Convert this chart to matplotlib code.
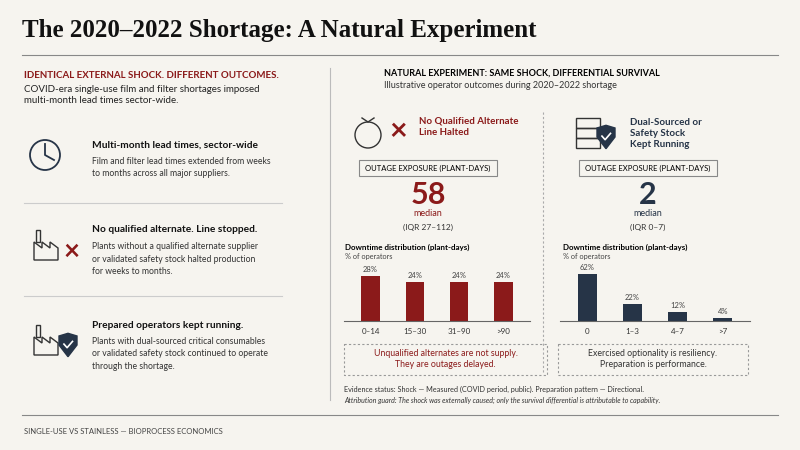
import numpy as np
import matplotlib.pyplot as plt
from matplotlib.patches import Rectangle, Circle, Polygon

plt.rcParams['font.family'] = ['Lato', 'DejaVu Sans']

bg = '#f6f4ef'
red = '#8b1a1a'
navy = '#263447'
grey = '#444444'

left_bins = ['0–14', '15–30', '31–90', '>90']
left_pct = [28, 24, 24, 24]
right_bins = ['0', '1–3', '4–7', '>7']
right_pct = [62, 22, 12, 4]

fig = plt.figure(figsize=(8, 4.5), dpi=100)
fig.patch.set_facecolor(bg)
ax = fig.add_axes([0, 0, 1, 1])
ax.set_xlim(0, 800)
ax.set_ylim(450, 0)
ax.axis('off')

# title
ax.text(22, 30, 'The 2020–2022 Shortage: A Natural Experiment', fontsize=18, fontweight='bold',
        family='Liberation Serif', va='center', color='#111111')
ax.plot([22, 778], [55, 55], color='#888888', lw=0.8)
ax.plot([22, 778], [415, 415], color='#888888', lw=0.8)
ax.plot([330, 330], [68, 400], color='#bbbbbb', lw=0.8)
ax.text(24, 431, 'SINGLE-USE VS STAINLESS — BIOPROCESS ECONOMICS', fontsize=5.5, color=grey, va='center')

# left column
ax.text(24, 76, 'IDENTICAL EXTERNAL SHOCK. DIFFERENT OUTCOMES.', fontsize=7, fontweight='bold', color=red, va='center')
ax.text(24, 95, 'COVID-era single-use film and filter shortages imposed\nmulti-month lead times sector-wide.',
        fontsize=7, color='#222222', va='center', linespacing=1.4)

items = [(155, 'Multi-month lead times, sector-wide',
          'Film and filter lead times extended from weeks\nto months across all major suppliers.'),
         (240, 'No qualified alternate. Line stopped.',
          'Plants without a qualified alternate supplier\nor validated safety stock halted production\nfor weeks to months.'),
         (335, 'Prepared operators kept running.',
          'Plants with dual-sourced critical consumables\nor validated safety stock continued to operate\nthrough the shortage.')]
for y, head, body in items:
    ax.text(92, y - 10, head, fontsize=7.3, fontweight='bold', va='center', color='#111111')
    ax.text(92, y + 2, body, fontsize=6.2, va='top', color='#333333', linespacing=1.5)
ax.plot([24, 282], [203, 203], color='#cccccc', lw=0.8)
ax.plot([24, 282], [296, 296], color='#cccccc', lw=0.8)

# clock icon
ax.add_patch(Circle((45, 155), 15, fill=False, ec=navy, lw=1.3))
ax.plot([45, 45, 54], [144, 155, 160], color=navy, lw=1.3)


def factory(x0, y0):
    pts = [(x0, y0), (x0, y0 - 18), (x0 + 8, y0 - 12), (x0 + 8, y0 - 18), (x0 + 16, y0 - 12),
           (x0 + 16, y0 - 18), (x0 + 24, y0 - 12), (x0 + 24, y0)]
    ax.add_patch(Polygon(pts, closed=True, fill=False, ec='#333333', lw=1))
    ax.add_patch(Rectangle((x0 + 2, y0 - 30), 4, 12, fill=False, ec='#333333', lw=1))


factory(34, 260)
ax.text(72, 252, '×', fontsize=20, color=red, ha='center', va='center', fontweight='bold')
factory(34, 355)


def shield(cx, cy, s):
    pts = [(cx - s, cy - s), (cx, cy - 1.3 * s), (cx + s, cy - s), (cx + s, cy), (cx, cy + 1.3 * s), (cx - s, cy)]
    ax.add_patch(Polygon(pts, closed=True, fc=navy, ec=navy))
    ax.plot([cx - 0.45 * s, cx - 0.1 * s, cx + 0.5 * s], [cy - 0.1 * s, cy + 0.3 * s, cy - 0.4 * s], color='white', lw=1.2)


shield(68, 345, 9)

# right panel header
ax.text(384, 73, 'NATURAL EXPERIMENT: SAME SHOCK, DIFFERENTIAL SURVIVAL', fontsize=6.5, fontweight='bold', va='center')
ax.text(384, 86, 'Illustrative operator outcomes during 2020–2022 shortage', fontsize=6.5, color='#333333', va='center')
ax.plot([543, 543], [112, 372], color='#aaaaaa', lw=0.8, ls=(0, (2, 2)))

# left panel
ax.add_patch(Circle((368, 135), 13, fill=False, ec='#333333', lw=1))
ax.plot([362, 368, 374], [118, 122, 118], color='#333333', lw=1)
ax.text(398, 131, '×', fontsize=22, color=red, ha='center', va='center', fontweight='bold')
ax.text(419, 127, 'No Qualified Alternate\nLine Halted', fontsize=7, fontweight='bold', color=red, va='center', linespacing=1.3)
# right panel icon
for yy in [118, 128, 138]:
    ax.add_patch(Rectangle((576, yy), 24, 10, fill=False, ec='#333333', lw=1))
shield(606, 137, 9)
ax.text(630, 118, 'Dual-Sourced or\nSafety Stock\nKept Running', fontsize=7, fontweight='bold', color=navy, va='top', linespacing=1.3)

for cx, val, iqr, col in [(428, '58', '(IQR 27–112)', red), (648, '2', '(IQR 0–7)', navy)]:
    ax.add_patch(Rectangle((cx - 69, 160), 138, 16, fill=False, ec='#888888', lw=0.8))
    ax.text(cx, 168, 'OUTAGE EXPOSURE (PLANT-DAYS)', fontsize=5.5, ha='center', va='center')
    ax.text(cx, 195, val, fontsize=22, fontweight='bold', color=col, ha='center', va='center')
    ax.text(cx, 214, 'median', fontsize=6.5, color=col, ha='center', va='center')
    ax.text(cx, 227, iqr, fontsize=6, ha='center', va='center', color='#333333')

for x0 in [345, 563]:
    ax.text(x0, 247, 'Downtime distribution (plant-days)', fontsize=5.8, fontweight='bold', va='center')
    ax.text(x0, 257, '% of operators', fontsize=5.3, va='center', color='#444444')

for x0, w, txt, col in [(344, 203, 'Unqualified alternates are not supply.\nThey are outages delayed.', red),
                        (558, 190, 'Exercised optionality is resiliency.\nPreparation is performance.', '#333333')]:
    ax.add_patch(Rectangle((x0, 344), w, 31, fill=False, ec='#999999', lw=0.8, ls=(0, (2, 2))))
    ax.text(x0 + w / 2, 359, txt, fontsize=6.3, color=col, ha='center', va='center', linespacing=1.4)

ax.text(344, 389, 'Evidence status: Shock — Measured (COVID period, public). Preparation pattern — Directional.',
        fontsize=5.2, va='center', color='#333333')
ax.text(344, 400, 'Attribution guard: The shock was externally caused; only the survival differential is attributable to capability.',
        fontsize=5.0, va='center', style='italic', color='#333333')

# bar charts
for rect, cats, vals, col, ymax in [([344 / 800, 129 / 450, 186 / 800, 58 / 450], left_bins, left_pct, red, 36),
                                    ([560 / 800, 129 / 450, 190 / 800, 58 / 450], right_bins, right_pct, navy, 76)]:
    b = fig.add_axes(rect)
    b.set_facecolor('none')
    x = np.arange(len(cats))
    b.bar(x, vals, width=0.42, color=col)
    for xi, v in zip(x, vals):
        b.text(xi, v + 2 * ymax / 40, f'{v}%', ha='center', va='bottom', fontsize=5.5, color='#444444')
    b.set_ylim(0, ymax)
    b.set_xlim(-0.6, len(cats) - 0.4)
    b.set_xticks(x)
    b.set_xticklabels(cats, fontsize=5.8, color='#333333')
    b.tick_params(length=0, pad=5)
    b.set_yticks([])
    for s in ['top', 'right', 'left']:
        b.spines[s].set_visible(False)
    b.spines['bottom'].set_color('#666666')

fig.savefig('out.png', dpi=100, facecolor=bg)
